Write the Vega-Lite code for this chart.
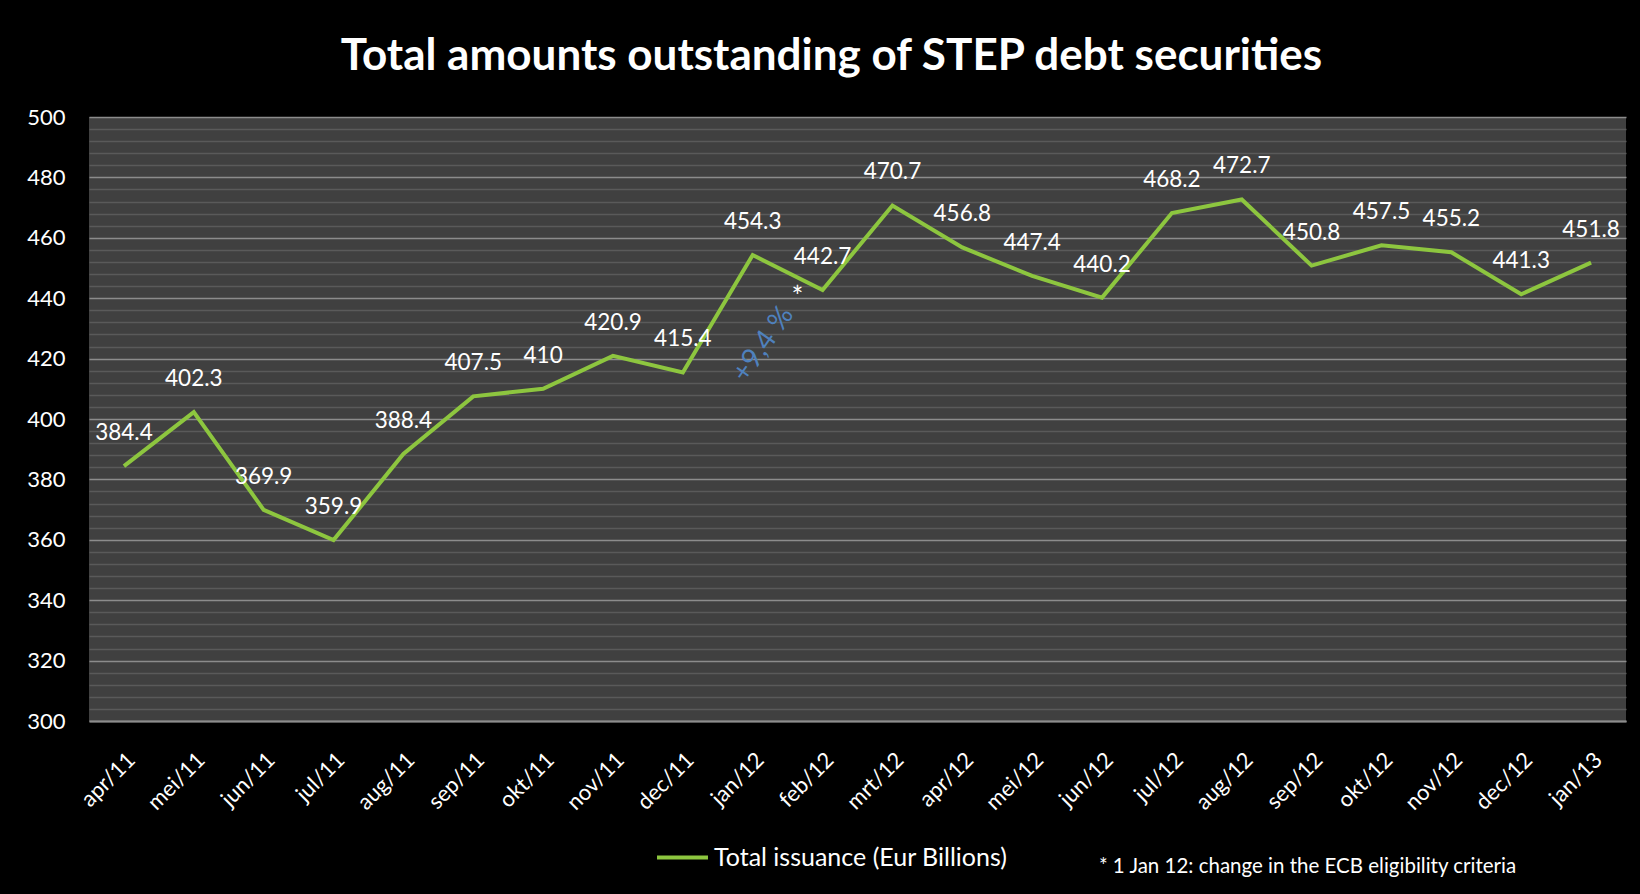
{
  "$schema": "https://vega.github.io/schema/vega-lite/v6.json",
  "autosize": {"type": "none"},
  "width": 1537,
  "height": 604,
  "padding": {"left": 89, "top": 117, "right": 14, "bottom": 173},
  "background": "#000000",
  "config": {
    "view": {"fill": "#404040", "stroke": null},
    "font": "Lato"
  },
  "title": {
    "text": "Total amounts outstanding of STEP debt securities",
    "color": "#ffffff",
    "fontSize": 44,
    "fontWeight": "bold",
    "font": "Lato",
    "anchor": "middle",
    "dx": -26,
    "offset": 27
  },
  "data": {
    "values": [
      {"month": "apr/11", "value": 384.4},
      {"month": "mei/11", "value": 402.3},
      {"month": "jun/11", "value": 369.9},
      {"month": "jul/11", "value": 359.9},
      {"month": "aug/11", "value": 388.4},
      {"month": "sep/11", "value": 407.5},
      {"month": "okt/11", "value": 410},
      {"month": "nov/11", "value": 420.9},
      {"month": "dec/11", "value": 415.4},
      {"month": "jan/12", "value": 454.3},
      {"month": "feb/12", "value": 442.7},
      {"month": "mrt/12", "value": 470.7},
      {"month": "apr/12", "value": 456.8},
      {"month": "mei/12", "value": 447.4},
      {"month": "jun/12", "value": 440.2},
      {"month": "jul/12", "value": 468.2},
      {"month": "aug/12", "value": 472.7},
      {"month": "sep/12", "value": 450.8},
      {"month": "okt/12", "value": 457.5},
      {"month": "nov/12", "value": 455.2},
      {"month": "dec/12", "value": 441.3},
      {"month": "jan/13", "value": 451.8}
    ]
  },
  "encoding": {
    "x": {
      "field": "month",
      "type": "nominal",
      "sort": null,
      "scale": {"type": "point", "padding": 0.5},
      "axis": {
        "title": "* 1 Jan 12: change in the ECB eligibility criteria",
        "titleColor": "#ffffff",
        "titleFont": "Lato",
        "titleFontSize": 20.5,
        "titleFontWeight": "normal",
        "titleX": 1218,
        "titleY": 145,
        "titleAlign": "center",
        "titleBaseline": "middle",
        "labelAngle": -45,
        "labelColor": "#ffffff",
        "labelFontSize": 22,
        "labelFont": "Lato",
        "labelPadding": 28,
        "labelDx": -16,
        "ticks": false,
        "domainColor": "#8c8c8c",
        "domainWidth": 2,
        "grid": false
      }
    },
    "y": {
      "field": "value",
      "type": "quantitative",
      "scale": {"domain": [300, 500], "nice": false, "zero": false},
      "axis": {
        "title": null,
        "values": [300,304,308,312,316,320,324,328,332,336,340,344,348,352,356,360,364,368,372,376,380,384,388,392,396,400,404,408,412,416,420,424,428,432,436,440,444,448,452,456,460,464,468,472,476,480,484,488,492,496,500],
        "labelExpr": "datum.value % 20 === 0 ? datum.label : ''",
        "labelColor": "#ffffff",
        "labelFontSize": 22,
        "labelFont": "Lato",
        "labelPadding": 24,
        "ticks": false,
        "domain": false,
        "grid": true,
        "gridColor": {"condition": {"test": "datum.value % 20 === 0", "value": "#8c8c8c"}, "value": "#5a5a5a"},
        "gridWidth": 1.5,
        "gridOpacity": 1
      }
    }
  },
  "layer": [
    {
      "mark": {"type": "line", "strokeWidth": 4, "strokeJoin": "miter"},
      "encoding": {
        "color": {
          "datum": "Total issuance (Eur Billions)",
          "type": "nominal",
          "scale": {"range": ["#8dc63f"]},
          "legend": {
            "title": null,
            "orient": "none",
            "legendX": 566,
            "legendY": 713,
            "symbolType": "stroke",
            "symbolSize": 2600,
            "symbolStrokeWidth": 4,
            "labelColor": "#ffffff",
            "labelFontSize": 25,
            "labelFont": "Lato",
            "labelOffset": 4,
            "labelLimit": 500
          }
        }
      }
    },
    {
      "mark": {"type": "text", "color": "#ffffff", "fontSize": 22.5, "font": "Lato", "baseline": "middle", "dy": -33},
      "encoding": {"text": {"field": "value", "type": "quantitative", "format": ".1~f"}}
    },
    {
      "data": {"values": [{"month": "feb/12", "value": 442.7, "note": "*"}]},
      "mark": {"type": "text", "color": "#ffffff", "fontSize": 28, "font": "Lato", "baseline": "middle", "dx": -25, "dy": 9},
      "encoding": {"text": {"field": "note"}}
    },
    {
      "data": {"values": [{"month": "jan/12", "value": 419.5, "note": "+9,4 %"}]},
      "mark": {"type": "text", "color": "#4f81bd", "fontSize": 28, "font": "Lato", "baseline": "middle", "align": "center", "angle": -55, "dx": 19},
      "encoding": {"text": {"field": "note"}}
    }
  ]
}
